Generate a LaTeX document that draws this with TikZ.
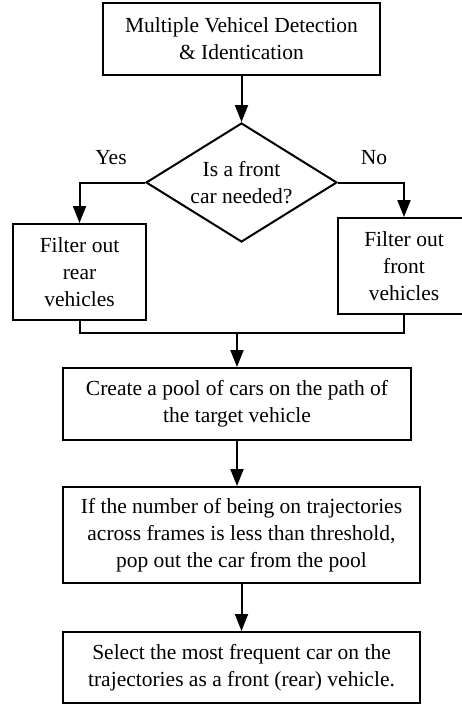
\documentclass[tikz,border=0pt]{standalone}
\usepackage{fontspec}
\setmainfont{Liberation Serif}
\usetikzlibrary{shapes.geometric,arrows.meta}
\begin{document}
\begin{tikzpicture}[x=1pt,y=-1pt,
  every node/.style={font=\fontsize{21.5}{27}\selectfont},
  box/.style={draw,line width=2pt,rectangle,inner sep=0pt,align=center},
  dec/.style={draw,line width=2pt,diamond,aspect=1.6,inner sep=0pt,align=center},
  conn/.style={line width=2pt},
  arr/.style={line width=2pt,-{Triangle[length=17pt,width=13pt]}},
  lbl/.style={inner sep=0pt}
]
\useasboundingbox (0,0) rectangle (462,704);
\node[box,minimum width=277pt,minimum height=72pt] (b1) at (241.5,39) {Multiple Vehicel Detection\\\& Identication};
\node[dec,minimum width=191pt,minimum height=119pt] (d) at (241.5,182.5) {Is a front\\car needed?};
\node[box,minimum width=133pt,minimum height=96pt] (lb) at (79.5,272) {Filter out\\rear\\vehicles};
\node[box,minimum width=132pt,minimum height=96pt] (rb) at (404,266) {Filter out\\front\\vehicles};
\node[box,minimum width=348pt,minimum height=72pt] (b3) at (237,404) {Create a pool of cars on the path of\\the target vehicle};
\node[box,minimum width=357pt,minimum height=96pt] (b4) at (241.5,535) {If the number of being on trajectories\\across frames is less than threshold,\\pop out the car from the pool};
\node[box,minimum width=357pt,minimum height=71pt] (b5) at (241.5,667.5) {Select the most frequent car on the\\trajectories as a front (rear) vehicle.};
\node[lbl] (yes) at (111,158) {Yes};
\node[lbl] (no) at (374,158) {No};
\coordinate (j) at (237,333);
\draw[arr] (b1.south) -- (d.north);
\draw[arr] (d.west) -| (lb.north);
\draw[arr] (d.east) -| (rb.north);
\draw[conn] (lb.south) |- (j) -| (rb.south);
\draw[arr] (j) -- (b3.north);
\draw[arr] (b3.south) -- (b3.south |- b4.north);
\draw[arr] (b4.south) -- (b5.north);
\end{tikzpicture}
\end{document}
